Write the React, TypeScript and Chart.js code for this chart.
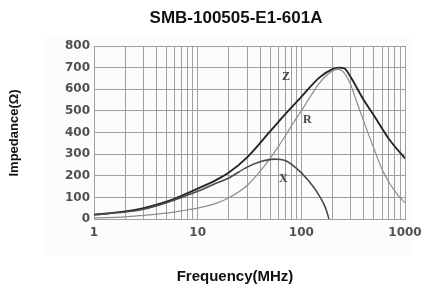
import React, { useEffect, useRef } from 'react';
import { Chart, registerables } from 'chart.js';
Chart.register(...registerables);

const chartTitle = 'SMB-100505-E1-601A';
const xTitle = 'Frequency(MHz)';
const yTitle = 'Impedance(Ω)';

const zFreq = [1, 2, 3, 5, 7, 10, 15, 20, 30, 50, 70, 100, 150, 200, 230, 260, 300, 400, 500, 700, 1000];
const zVals = [20, 35, 50, 80, 107, 140, 180, 215, 285, 405, 485, 565, 655, 693, 700, 697, 655, 550, 480, 370, 280];

const rFreq = [1, 2, 3, 5, 7, 10, 15, 20, 30, 40, 50, 60, 70, 80, 100, 120, 150, 200, 230, 260, 300, 350, 435, 540, 600, 700, 850, 1000];
const rVals = [5, 10, 17, 27, 38, 50, 72, 98, 155, 220, 280, 335, 385, 430, 500, 560, 630, 685, 692, 675, 620, 528, 404, 285, 230, 170, 112, 75];

const xFreq = [1, 2, 3, 5, 7, 10, 15, 20, 30, 40, 55, 70, 100, 130, 150, 170, 185];
const xVals = [20, 32, 45, 75, 100, 128, 165, 190, 240, 265, 277, 270, 213, 150, 105, 55, 0];

const xGridValues = [1, 2, 3, 4, 5, 6, 7, 8, 9, 10, 20, 30, 40, 50, 60, 70, 80, 90, 100, 200, 300, 400, 500, 600, 700, 800, 900, 1000];
const xTickLabels = [1, 10, 100, 1000];

const curveLabels = [
  { text: 'Z', f: 71, v: 659 },
  { text: 'R', f: 114, v: 458 },
  { text: 'X', f: 67, v: 185 },
];

const gridColor = '#a0a0a0';
const tickFont = { family: 'DejaVu Sans', size: 12, weight: 'bold' as const };

const decorPlugin = {
  id: 'decor',
  beforeDraw(chart: any) {
    const ctx = chart.ctx;
    ctx.save();
    ctx.fillStyle = '#ffffff';
    ctx.fillRect(0, 0, chart.width, chart.height);
    ctx.fillStyle = '#fcfcfc';
    ctx.fillRect(42, 38, 370, 217);
    ctx.restore();
  },
  afterDraw(chart: any) {
    const ctx = chart.ctx;
    const xs = chart.scales.x;
    const ys = chart.scales.y;
    ctx.save();
    ctx.fillStyle = '#111';
    ctx.textAlign = 'center';
    ctx.textBaseline = 'middle';
    ctx.font = 'bold 17px "Liberation Sans", Arial, sans-serif';
    ctx.fillText(chartTitle, 236, 18);
    ctx.font = 'bold 15px "Liberation Sans", Arial, sans-serif';
    ctx.fillText(xTitle, 235, 277);
    ctx.save();
    ctx.translate(14, 133);
    ctx.rotate(-Math.PI / 2);
    ctx.font = 'bold 13px "Liberation Sans", Arial, sans-serif';
    ctx.fillText(yTitle, 0, 0);
    ctx.restore();
    ctx.font = 'bold 12px "Liberation Serif", "DejaVu Serif", serif';
    ctx.fillStyle = '#444';
    for (const l of curveLabels) {
      ctx.fillText(l.text, xs.getPixelForValue(l.f), ys.getPixelForValue(l.v));
    }
    ctx.restore();
  },
};

export default function App() {
  const ref = useRef<HTMLCanvasElement>(null);
  useEffect(() => {
    const canvas = ref.current!;
    const mk = (fs: number[], vs: number[]) => fs.map((f, i) => ({ x: f, y: vs[i] }));
    const chart = new Chart(canvas, {
      type: 'line',
      data: {
        datasets: [
          { label: 'X', data: mk(xFreq, xVals), borderColor: '#4a4a4a', borderWidth: 1.6, pointRadius: 0, cubicInterpolationMode: 'monotone', fill: false },
          { label: 'R', data: mk(rFreq, rVals), borderColor: '#8c8c8c', borderWidth: 1.2, pointRadius: 0, cubicInterpolationMode: 'monotone', fill: false },
          { label: 'Z', data: mk(zFreq, zVals), borderColor: '#262626', borderWidth: 1.9, pointRadius: 0, cubicInterpolationMode: 'monotone', fill: false },
        ],
      },
      options: {
        animation: false,
        responsive: false,
        devicePixelRatio: 1,
        layout: { padding: { left: 0, top: 46, right: 17, bottom: 43 } },
        plugins: { legend: { display: false }, tooltip: { enabled: false }, title: { display: false } },
        scales: {
          x: {
            type: 'logarithmic',
            min: 1,
            max: 1000,
            afterBuildTicks: (s: any) => { s.ticks = xGridValues.map((v) => ({ value: v })); },
            afterFit: (s: any) => { s.height = 30; s.paddingRight = 0; s.paddingLeft = 0; },
            ticks: {
              autoSkip: false,
              maxRotation: 0,
              padding: 7,
              color: '#505050',
              font: tickFont,
              callback: (v: any) => (xTickLabels.includes(Number(v)) ? String(v) : ''),
            },
            grid: { color: gridColor, lineWidth: 1, drawTicks: false },
            border: { color: gridColor },
          },
          y: {
            min: 0,
            max: 800,
            afterFit: (s: any) => { s.width = 94; s.paddingTop = 0; s.paddingBottom = 0; },
            ticks: { stepSize: 100, padding: 4, color: '#505050', font: tickFont },
            grid: { color: gridColor, lineWidth: 1, drawTicks: false },
            border: { color: gridColor },
          },
        },
      },
      plugins: [decorPlugin],
    } as any);
    return () => chart.destroy();
  }, []);
  return (
    <div style={{ position: 'absolute', left: 0, top: 0, width: 422, height: 292 }}>
      <canvas ref={ref} width={422} height={292} />
    </div>
  );
}
